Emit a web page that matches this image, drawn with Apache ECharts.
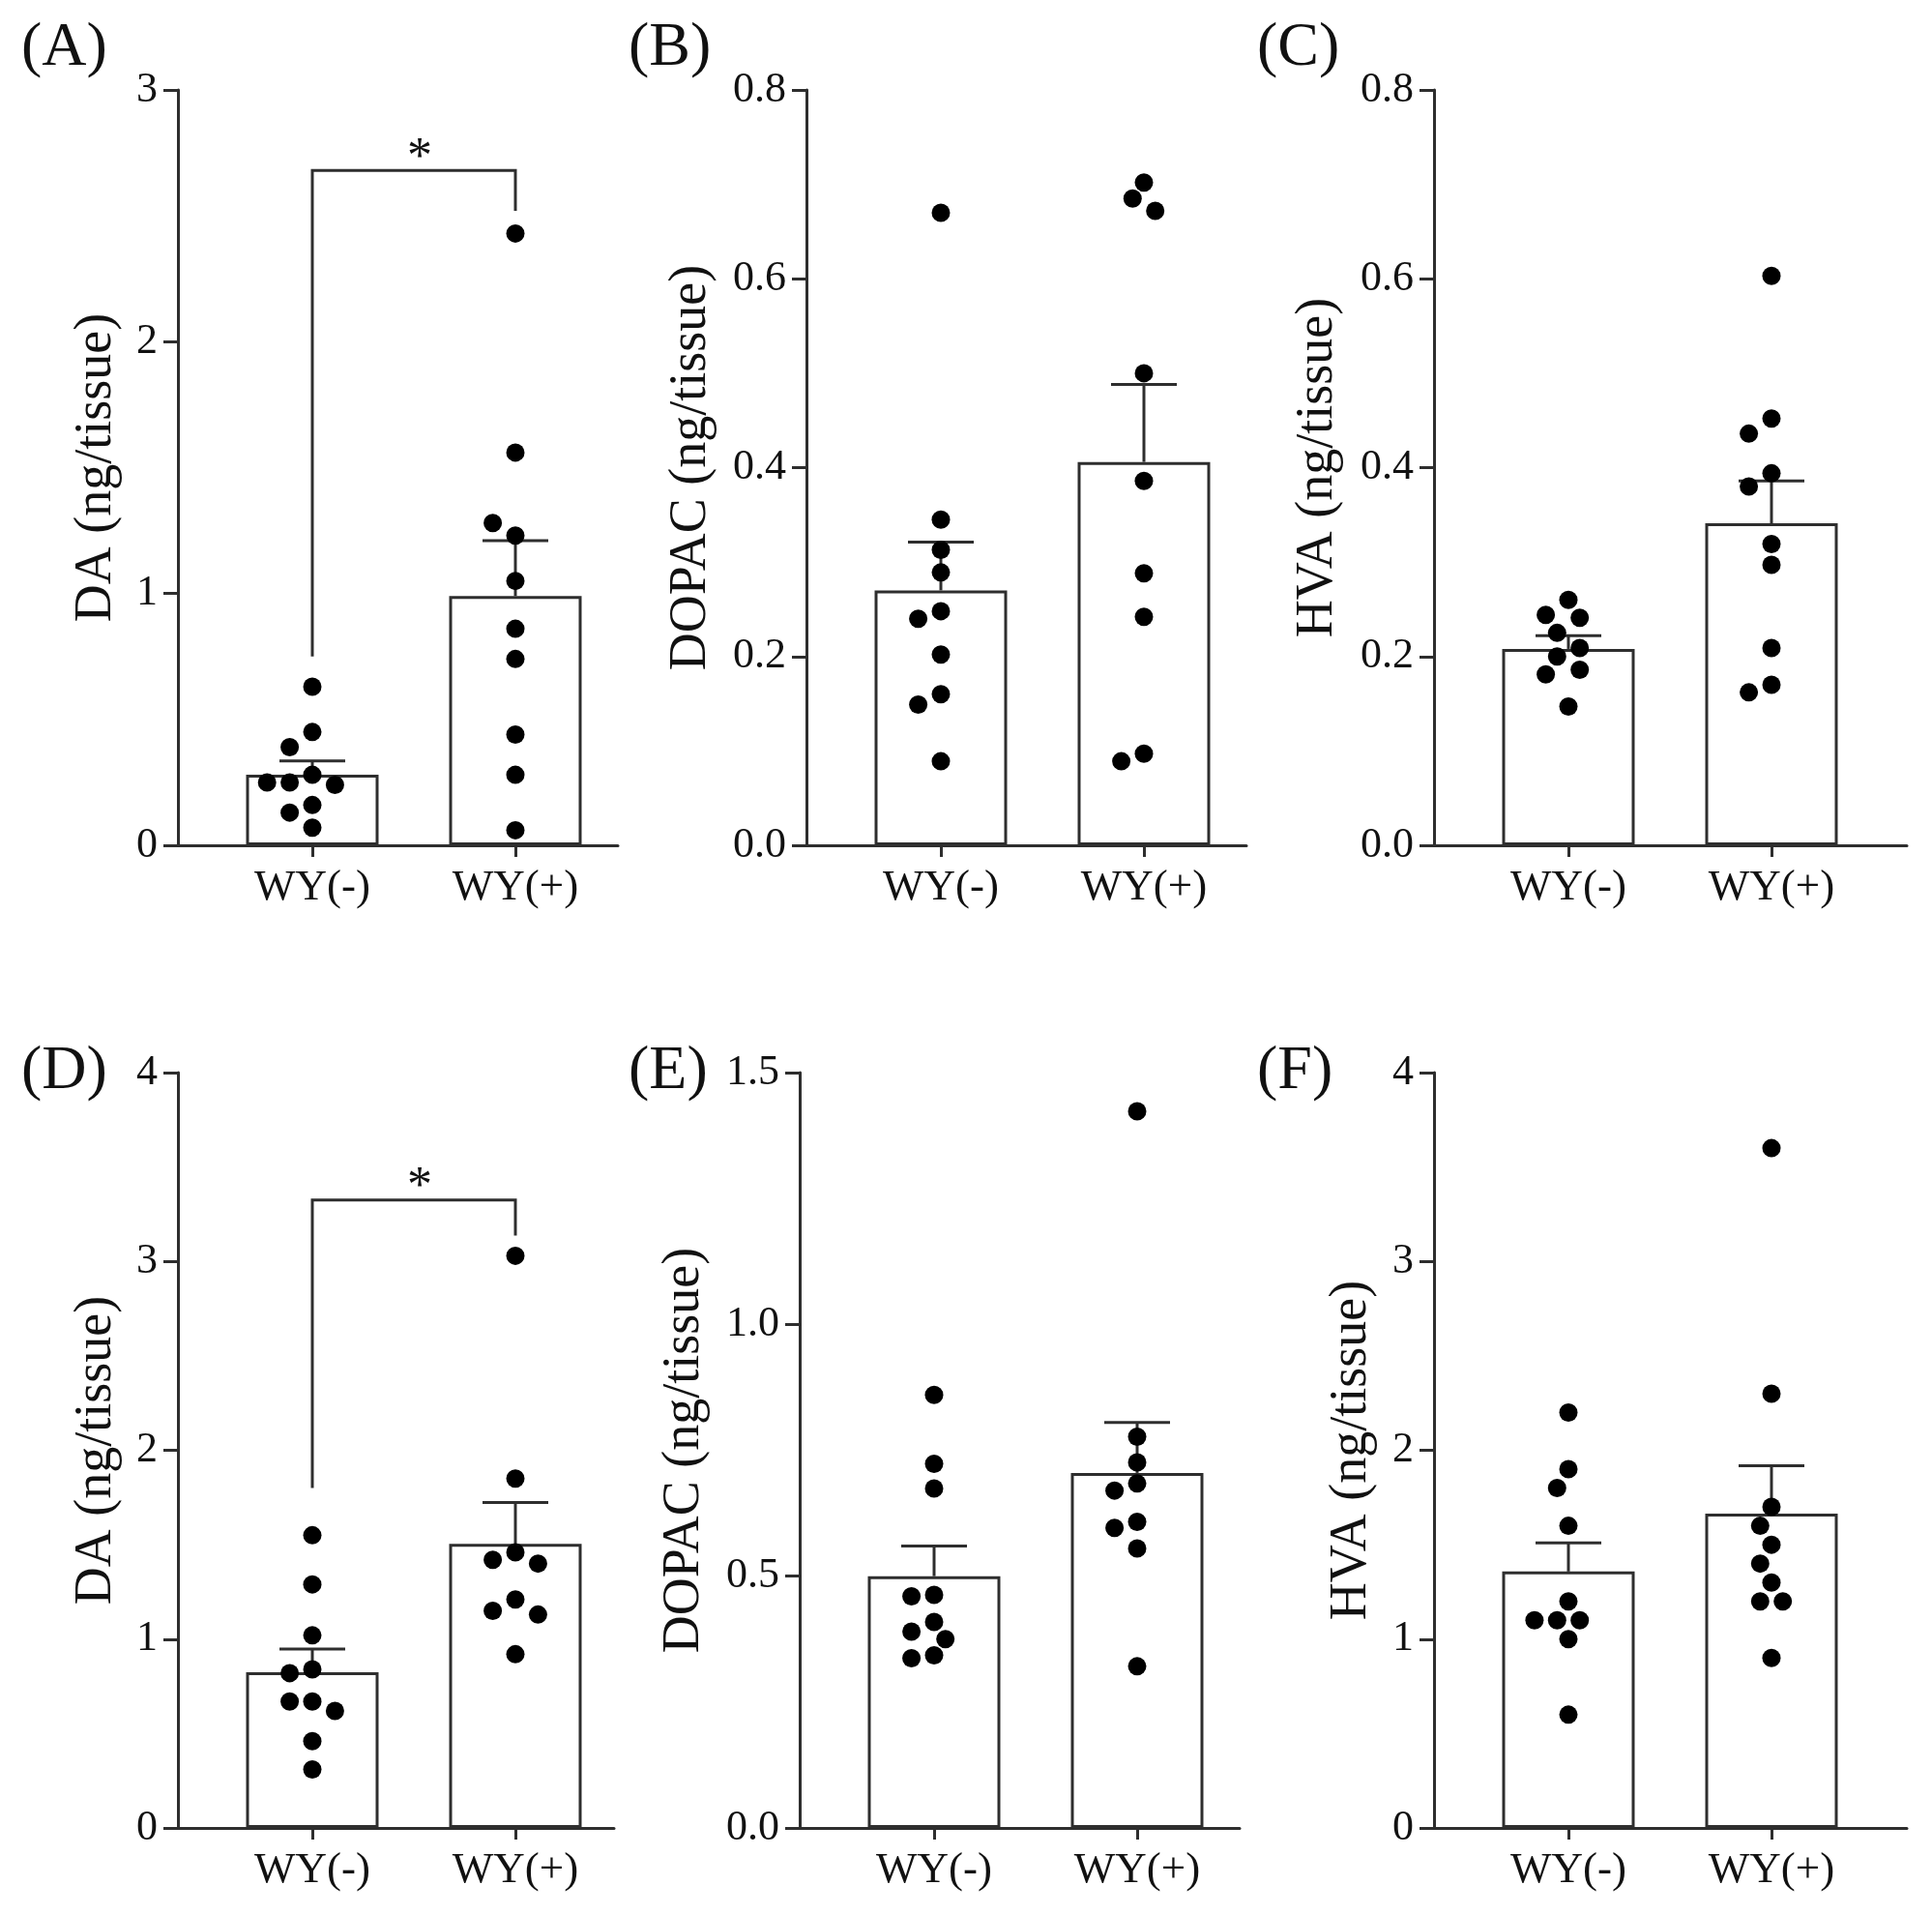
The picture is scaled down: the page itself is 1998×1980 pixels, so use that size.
<!DOCTYPE html>
<html>
<head>
<meta charset="utf-8">
<style type="text/css">
    html, body { margin: 0; padding: 0; background: #fff; }
    #chart { width: 1998px; height: 1980px; }
</style>
</head>
<body>
<div id="chart"></div>
<script src="https://cdn.jsdelivr.net/npm/echarts@6/dist/echarts.min.js"></script>
<script>

const categories = ['WY(-)', 'WY(+)'];
const panelLabels = ['(A)', '(B)', '(C)', '(D)', '(E)', '(F)'];
const yTitles = ['DA (ng/tissue)', 'DOPAC (ng/tissue)', 'HVA (ng/tissue)',
    'DA (ng/tissue)', 'DOPAC (ng/tissue)', 'HVA (ng/tissue)'];
const yMax = [3, 0.8, 0.8, 4, 1.5, 4];
const yStep = [1, 0.2, 0.2, 1, 0.5, 1];
const yDecimals = [0, 1, 1, 0, 1, 0];

// individual animals, WY(-) then WY(+)
const daTopNeg = [0.63, 0.45, 0.39, 0.28, 0.25, 0.24, 0.25, 0.16, 0.13, 0.07];
const daTopPos = [2.43, 1.56, 1.23, 1.28, 1.05, 0.86, 0.74, 0.44, 0.28, 0.06];
const dopacTopNeg = [0.67, 0.345, 0.313, 0.289, 0.248, 0.24, 0.202, 0.16, 0.149, 0.089];
const dopacTopPos = [0.702, 0.685, 0.672, 0.5, 0.386, 0.288, 0.242, 0.097, 0.089];
const hvaTopNeg = [0.26, 0.244, 0.241, 0.225, 0.209, 0.2, 0.186, 0.181, 0.147];
const hvaTopPos = [0.603, 0.452, 0.436, 0.394, 0.38, 0.319, 0.297, 0.209, 0.17, 0.162];
const daBotNeg = [1.55, 1.29, 1.02, 0.84, 0.82, 0.67, 0.67, 0.62, 0.46, 0.31];
const daBotPos = [3.03, 1.85, 1.46, 1.42, 1.4, 1.21, 1.15, 1.13, 0.92];
const dopacBotNeg = [0.86, 0.723, 0.674, 0.463, 0.46, 0.409, 0.39, 0.375, 0.343, 0.337];
const dopacBotPos = [1.423, 0.777, 0.726, 0.684, 0.67, 0.608, 0.596, 0.555, 0.321];
const hvaBotNeg = [2.2, 1.9, 1.8, 1.6, 1.2, 1.1, 1.1, 1.1, 1.0, 0.6];
const hvaBotPos = [3.6, 2.3, 1.7, 1.6, 1.5, 1.4, 1.3, 1.2, 1.2, 0.9];

// bar heights (mean) and top of the error bar (mean + SEM)
const barMeans = [[0.28, 0.99], [0.27, 0.406], [0.208, 0.341],
    [0.825, 1.504], [0.5, 0.705], [1.358, 1.665]];
const barTops = [[0.335, 1.21], [0.321, 0.488], [0.222, 0.386],
    [0.947, 1.724], [0.56, 0.805], [1.51, 1.918]];

// significance brackets: panel, bracket height, left foot, right foot
const brackets = [
    {panel: 0, y: 2.68, left: 0.75, right: 2.52, text: '*'},
    {panel: 3, y: 3.325, left: 1.80, right: 3.137, text: '*'}
];

const groups = [
    [daTopNeg, daTopPos], [dopacTopNeg, dopacTopPos], [hvaTopNeg, hvaTopPos],
    [daBotNeg, daBotPos], [dopacBotNeg, dopacBotPos], [hvaBotNeg, hvaBotPos]
];

// panel frames in page pixels
const boxes = [
    {x0: 184, x1: 639, top: 93, bottom: 874, nameGap: 57, lx: 22, ly: 18},
    {x0: 834, x1: 1289, top: 93, bottom: 874, nameGap: 92, lx: 650, ly: 18},
    {x0: 1483, x1: 1972, top: 93, bottom: 874, nameGap: 93, lx: 1300, ly: 18},
    {x0: 184, x1: 635, top: 1109, bottom: 1890, nameGap: 57, lx: 22, ly: 1076},
    {x0: 827, x1: 1282, top: 1109, bottom: 1890, nameGap: 92, lx: 650, ly: 1076},
    {x0: 1483, x1: 1972, top: 1109, bottom: 1890, nameGap: 58, lx: 1300, ly: 1076}
];

const FONT = '"Liberation Serif", "Times New Roman", serif';
const LINE = '#2e2e2e';
const UNIT = 210;      // px between the two groups
const FIRST = 139;     // px from y axis to first group

// spread overlapping dots sideways, GraphPad style
function swarm(values, pxPerUnit) {
    const D = 20, half = 11.7;
    const placed = [];
    return values.map(v => {
        const y = v * pxPerUnit;
        for (let k = 0; k < 30; k++) {
            const m = k === 0 ? 0 : (k % 2 ? -Math.ceil(k / 2) : k / 2);
            const dx = m * half;
            if (placed.every(p => Math.hypot(p.dx - dx, p.y - y) >= D)) {
                placed.push({dx, y});
                return dx;
            }
        }
        return 0;
    });
}

let chart = echarts.init(document.getElementById('chart'), null, {renderer: 'canvas'});

let grid = [], xAxis = [], yAxis = [], series = [], title = [];

boxes.forEach((b, i) => {
    grid.push({left: b.x0, top: b.top, width: b.x1 - b.x0, height: b.bottom - b.top});
    title.push({
        text: panelLabels[i], left: b.lx, top: b.ly, padding: 0,
        textStyle: {fontFamily: FONT, fontSize: 64, fontWeight: 'normal', color: '#111'}
    });
    xAxis.push({
        type: 'value', gridIndex: i,
        min: 1 - FIRST / UNIT,
        max: 2 + (b.x1 - b.x0 - FIRST - UNIT) / UNIT,
        splitLine: {show: false},
        axisLine: {show: true, lineStyle: {color: LINE, width: 3}},
        axisTick: {show: true, customValues: [1, 2], length: 12, lineStyle: {color: LINE, width: 3}},
        axisLabel: {
            customValues: [1, 2], margin: 22,
            formatter: v => categories[Math.round(v) - 1],
            fontFamily: FONT, fontSize: 45, color: '#111'
        }
    });
    yAxis.push({
        type: 'value', gridIndex: i, min: 0, max: yMax[i], interval: yStep[i],
        name: yTitles[i], nameLocation: 'middle', nameGap: b.nameGap, nameRotate: 90,
        nameTextStyle: {fontFamily: FONT, fontSize: 54, color: '#111'},
        splitLine: {show: false},
        axisLine: {show: true, lineStyle: {color: LINE, width: 3}},
        axisTick: {show: true, length: 15, lineStyle: {color: LINE, width: 3}},
        axisLabel: {
            margin: 21, formatter: v => v.toFixed(yDecimals[i]),
            fontFamily: FONT, fontSize: 44, color: '#111'
        }
    });

    series.push({
        type: 'bar', xAxisIndex: i, yAxisIndex: i, barWidth: 137, z: 2,
        data: barMeans[i].map((m, g) => [g + 1, m]),
        itemStyle: {color: '#fff', borderColor: LINE, borderWidth: 3},
        silent: true
    });

    series.push({
        type: 'custom', xAxisIndex: i, yAxisIndex: i, z: 3,
        data: barTops[i].map((t, g) => [g + 1, barMeans[i][g], t]),
        renderItem: (params, api) => {
            const base = api.coord([api.value(0), api.value(1)]);
            const top = api.coord([api.value(0), api.value(2)]);
            const style = {stroke: LINE, lineWidth: 3};
            return {
                type: 'group',
                children: [
                    {type: 'line', shape: {x1: base[0], y1: base[1], x2: top[0], y2: top[1]}, style},
                    {type: 'line', shape: {x1: top[0] - 34, y1: top[1], x2: top[0] + 34, y2: top[1]}, style}
                ]
            };
        }
    });

    const pxPerUnit = (b.bottom - b.top) / yMax[i];
    let dots = [];
    groups[i].forEach((vals, g) => {
        const dx = swarm(vals, pxPerUnit);
        vals.forEach((v, k) => dots.push([g + 1 + dx[k] / UNIT, v]));
    });
    series.push({
        type: 'scatter', xAxisIndex: i, yAxisIndex: i, z: 4,
        symbol: 'circle', symbolSize: 19, data: dots,
        itemStyle: {color: '#000', opacity: 1}, silent: true
    });
});

brackets.forEach(br => {
    series.push({
        type: 'custom', xAxisIndex: br.panel, yAxisIndex: br.panel, z: 5,
        data: [[br.y, br.left, br.right]],
        renderItem: (params, api) => {
            const h = api.value(0);
            const a = api.coord([1, api.value(1)]);
            const b = api.coord([1, h]);
            const c = api.coord([2, h]);
            const d = api.coord([2, api.value(2)]);
            return {
                type: 'group',
                children: [
                    {type: 'polyline', shape: {points: [a, b, c, d]},
                        style: {stroke: LINE, lineWidth: 3, fill: null}},
                    {type: 'text', x: (b[0] + c[0]) / 2 + 6, y: b[1] + 14,
                        style: {text: br.text, font: '52px ' + FONT, fill: '#111',
                            align: 'center', verticalAlign: 'bottom'}}
                ]
            };
        }
    });
});

chart.setOption({
    animation: false,
    backgroundColor: '#fff',
    title, grid, xAxis, yAxis, series
});

</script>
</body>
</html>
